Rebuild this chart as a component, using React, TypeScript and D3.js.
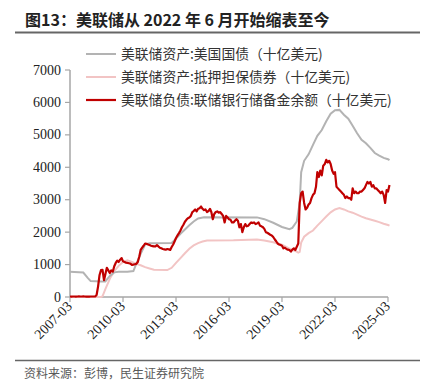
import React from "react";
import * as d3 from "d3";

const title = "图13：美联储从 2022 年 6 月开始缩表至今";
const source = "资料来源：彭博，民生证券研究院";
const seriesNames = [
  "美联储资产:美国国债（十亿美元)",
  "美联储资产:抵押担保债券（十亿美元)",
  "美联储负债:联储银行储备金余额（十亿美元)",
];
const xTickLabels = ["2007-03", "2010-03", "2013-03", "2016-03", "2019-03", "2022-03", "2025-03"];
const yTicks = [0, 1000, 2000, 3000, 4000, 5000, 6000, 7000];

// Treasuries (knots, month, value)
const treasuryDates = [
  "2007-03", "2007-12", "2008-03", "2008-05", "2008-12", "2009-03", "2009-06", "2009-09", "2009-12",
  "2010-06", "2010-10", "2010-12", "2011-03", "2011-06", "2011-09", "2012-12", "2013-03", "2013-06",
  "2013-09", "2013-12", "2014-03", "2014-06", "2014-10", "2017-10", "2018-03", "2018-09", "2019-03",
  "2019-08", "2019-10", "2020-01", "2020-03", "2020-04", "2020-06", "2020-09", "2020-12", "2021-03",
  "2021-06", "2021-09", "2021-12", "2022-03", "2022-06", "2022-09", "2022-12", "2023-03", "2023-06",
  "2023-09", "2023-12", "2024-03", "2024-06", "2024-09", "2024-12", "2025-03", "2025-04",
];
const treasuryValues = [
  780, 755, 590, 490, 476, 480, 650, 760, 776,
  777, 800, 1020, 1330, 1620, 1660, 1666, 1800, 1950,
  2080, 2210, 2330, 2420, 2460, 2455, 2400, 2290, 2160,
  2090, 2130, 2330, 2900, 3850, 4200, 4400, 4690, 4970,
  5150, 5420, 5650, 5760, 5770, 5620, 5500, 5280, 5050,
  4850, 4740, 4600, 4440, 4360, 4290, 4250, 4220,
];

// MBS
const mbsDates = [
  "2007-03", "2008-12", "2009-01", "2009-03", "2009-06", "2009-09", "2009-12", "2010-03", "2010-06",
  "2010-09", "2010-12", "2011-03", "2011-06", "2011-09", "2011-12", "2012-09", "2012-12", "2013-03",
  "2013-06", "2013-09", "2013-12", "2014-03", "2014-06", "2014-09", "2014-12", "2016-06", "2017-10",
  "2018-03", "2018-09", "2019-03", "2019-09", "2019-12", "2020-02", "2020-03", "2020-04", "2020-06",
  "2020-09", "2020-12", "2021-03", "2021-06", "2021-09", "2021-12", "2022-03", "2022-06", "2022-09",
  "2022-12", "2023-03", "2023-06", "2023-09", "2023-12", "2024-03", "2024-06", "2024-09", "2024-12",
  "2025-03", "2025-04",
];
const mbsValues = [
  0, 0, 20, 240, 560, 800, 960, 1080, 1130,
  1080, 1020, 980, 920, 880, 840, 830, 900, 1050,
  1200, 1350, 1490, 1590, 1660, 1710, 1740, 1750, 1775,
  1740, 1690, 1610, 1470, 1420, 1370, 1390, 1680, 1860,
  1970, 2050, 2200, 2340, 2480, 2610, 2700, 2740, 2700,
  2640, 2600, 2540, 2480, 2430, 2390, 2350, 2310, 2260,
  2220, 2200,
];

// Reserves, monthly from 2007-03
const reserveStart = "2007-03";
const reserveValues = [
  16, 13, 15, 16, 14, 15, 17, 15, 16, 18,
  15, 14, 15, 14, 15, 16, 15, 16, 60, 320, 680, 830,
  840, 520, 700, 900, 820, 740, 820, 780, 950, 1050, 1120, 1080,
  1150, 1200, 1100, 1080, 1060, 1050, 1040, 1030, 990, 1000, 1010, 1020,
  1080, 1250, 1450, 1520, 1580, 1650, 1640, 1620, 1600, 1580, 1570, 1560,
  1560, 1600, 1560, 1520, 1500, 1480, 1470, 1460, 1480, 1470, 1450, 1540,
  1620, 1720, 1820, 1900, 1970, 2050, 2150, 2230, 2320, 2380, 2430, 2450,
  2500, 2620, 2650, 2700, 2640, 2720, 2740, 2790, 2720, 2680, 2700, 2620,
  2650, 2720, 2620, 2400, 2560, 2620, 2640, 2600, 2620, 2560, 2500, 2300,
  2500, 2450, 2400, 2380, 2300, 2300, 2350, 2400, 2350, 2150, 2250, 2000,
  2150, 2250, 2180, 2200, 2250, 2300, 2280, 2300, 2250, 2270, 2300, 2200,
  2180, 2150, 2100, 2000, 1980, 1950, 1920, 1900, 1850, 1780, 1720, 1650,
  1620, 1600, 1580, 1500, 1520, 1480, 1460, 1450, 1400, 1460, 1500, 1450,
  1550, 1650, 2900, 3200, 3250, 2900, 2700, 2750, 2850, 2900, 3050, 3150,
  3200, 3400, 3850, 3700, 3900, 3750, 4050, 4100, 4230, 4150, 4200, 4100,
  3900, 3800, 3850, 3400, 3350, 3300, 3250, 3200, 3150, 3050, 3100, 3050,
  3050, 3000, 3350, 3200, 3250, 3200, 3200, 3250, 3250, 3300, 3350, 3450,
  3550, 3500, 3550, 3400, 3450, 3350, 3350, 3300, 3250, 3200, 3250, 3150,
  2900, 3300, 3250, 3450,
];

const W = 428;
const H = 390;
const parse = d3.timeParse("%Y-%m");

export default function App() {
  const x = d3
    .scaleTime()
    .domain([parse("2007-03")!, parse("2025-03")!])
    .range([70, 388]);
  const y = d3.scaleLinear().domain([0, 7000]).range([297, 70]);

  const line = d3
    .line<[Date, number]>()
    .x((d) => x(d[0]))
    .y((d) => y(d[1]));

  const tr: [Date, number][] = treasuryDates.map((d, i) => [parse(d)!, treasuryValues[i]]);
  const mb: [Date, number][] = mbsDates.map((d, i) => [parse(d)!, mbsValues[i]]);
  const start = parse(reserveStart)!;
  const rs: [Date, number][] = reserveValues.map((v, i) => [d3.timeMonth.offset(start, i), v]);

  const axisColor = "#a6a6a6";
  const serif = "'Liberation Serif', 'Times New Roman', serif";
  const sans = "'Noto Sans CJK SC', 'Noto Sans', sans-serif";
  const colors = ["#b3b3b3", "#f2c4c4", "#c00000"];
  const widths = [2, 2, 2.2];
  const legendY = [54, 77, 100];

  return (
    <svg width={W} height={H} style={{ position: "absolute", left: 0, top: 0, background: "#fff" }}>
      <text x={25} y={25.5} fontFamily={sans} fontWeight="bold" fontSize={16} fill="#222">
        {title}
      </text>
      <line x1={15} x2={420} y1={32.5} y2={32.5} stroke="#666" strokeWidth={2} />

      {/* y axis */}
      <line x1={70} x2={70} y1={y(7000)} y2={y(0)} stroke={axisColor} strokeWidth={1.5} />
      {yTicks.map((t) => (
        <g key={t}>
          <line x1={65} x2={70} y1={y(t)} y2={y(t)} stroke={axisColor} strokeWidth={1.2} />
          <text x={61} y={y(t) + 4.5} textAnchor="end" fontFamily={serif} fontSize={14} fill="#222">
            {t}
          </text>
        </g>
      ))}
      {/* x axis */}
      <line x1={70} x2={388} y1={y(0)} y2={y(0)} stroke={axisColor} strokeWidth={1.5} />
      {xTickLabels.map((t) => {
        const px = x(parse(t)!);
        return (
          <g key={t}>
            <line x1={px} x2={px} y1={y(0)} y2={y(0) + 5} stroke={axisColor} strokeWidth={1.2} />
            <text
              transform={`translate(${px + 3},${y(0) + 10}) rotate(-45)`}
              textAnchor="end"
              fontFamily={serif}
              fontSize={14}
              fill="#222"
            >
              {t}
            </text>
          </g>
        );
      })}

      <path d={line(mb)!} fill="none" stroke={colors[1]} strokeWidth={widths[1]} />
      <path d={line(tr)!} fill="none" stroke={colors[0]} strokeWidth={widths[0]} />
      <path d={line(rs)!} fill="none" stroke={colors[2]} strokeWidth={widths[2]} strokeLinejoin="round" />

      {seriesNames.map((n, i) => (
        <g key={n}>
          <line x1={86} x2={116} y1={legendY[i]} y2={legendY[i]} stroke={colors[i]} strokeWidth={widths[i]} />
          <text x={121} y={legendY[i] + 5} fontFamily={sans} fontSize={13.8} fill="#333">
            {n}
          </text>
        </g>
      ))}

      <line x1={15} x2={420} y1={360.5} y2={360.5} stroke="#666" strokeWidth={1.5} />
      <text x={24} y={378} fontFamily={sans} fontSize={12} fill="#595959">
        {source}
      </text>
    </svg>
  );
}
